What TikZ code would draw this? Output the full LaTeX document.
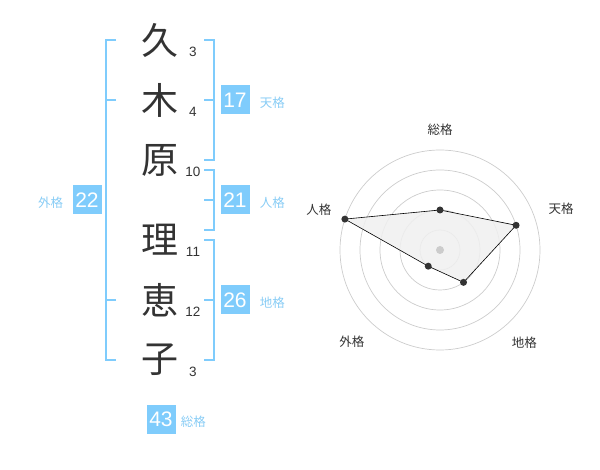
\documentclass[tikz,border=0pt]{standalone}
\usepackage{fontspec}
\setmainfont{Liberation Sans}
\newfontfamily\cjk{Noto Sans CJK JP}
\usepackage{tikz}
\usetikzlibrary{positioning}

\definecolor{skyblue}{HTML}{7FCCFC}
\definecolor{lightlabel}{HTML}{88CCF5}
\definecolor{darktext}{HTML}{333333}
\definecolor{ringgray}{HTML}{CCCCCC}
\definecolor{fillgray}{HTML}{F0F0F0}

\begin{document}
\begin{tikzpicture}[x=1pt, y=-1pt,
    kanji/.style={inner sep=0, text=darktext, font=\cjk\fontsize{37}{37}\selectfont},
    strokes/.style={inner sep=0, text=darktext, font=\fontsize{13.5}{14}\selectfont},
    scorebox/.style={fill=skyblue, text=white, inner sep=0, minimum size=29pt, font=\fontsize{21}{21}\selectfont},
    kaku/.style={inner sep=0, text=lightlabel, font=\cjk\fontsize{12.5}{13}\selectfont},
    bracket/.style={draw=skyblue, line width=2pt},
    axis/.style={inner sep=0, text=darktext, font=\cjk\fontsize{12.5}{13}\selectfont},
    ring/.style={draw=ringgray, line width=0.7pt},
    dot/.style={circle, fill=darktext, inner sep=0, minimum size=7pt}]

    \useasboundingbox (0,0) rectangle (600,470);

    % Name characters
    \node (kyu)  [kanji] at (160,40) {久};
    \node (ki)   [kanji] at (160,100) {木};
    \node (hara) [kanji] at (160,160) {原};
    \node (ri)   [kanji] at (160,240) {理};
    \node (kei)  [kanji] at (160,300) {恵};
    \node (ko)   [kanji] at (160,360) {子};

    % Stroke counts
    \node (kyuN)  [strokes] at (193,52) {3};
    \node (kiN)   [strokes] at (193,112) {4};
    \node (haraN) [strokes] at (193,172) {10};
    \node (riN)   [strokes] at (193,252) {11};
    \node (keiN)  [strokes] at (193,312) {12};
    \node (koN)   [strokes] at (193,372) {3};

    % Brackets
    \draw[bracket] (116,40) -- (106,40) -- (106,360) -- (116,360);
    \draw[bracket] (116,100) -- (106,100);
    \draw[bracket] (116,300) -- (106,300);
    \draw[bracket] (204,40) -- (214,40) -- (214,160) -- (204,160);
    \draw[bracket] (204,100) -- (214,100);
    \draw[bracket] (204,170) -- (214,170) -- (214,230) -- (204,230);
    \draw[bracket] (204,200) -- (214,200);
    \draw[bracket] (204,240) -- (214,240) -- (214,360) -- (204,360);
    \draw[bracket] (204,300) -- (214,300);

    % Scores and their labels
    \node (ten)  [scorebox] at (235,100) {17};
    \node (jin)  [scorebox] at (235,200) {21};
    \node (chi)  [scorebox] at (235,300) {26};
    \node (gai)  [scorebox] at (87,200) {22};
    \node (sou)  [scorebox] at (161,419) {43};
    \node (tenL) [kaku, right=10pt of ten, yshift=-3pt] {天格};
    \node (jinL) [kaku, right=10pt of jin, yshift=-3pt] {人格};
    \node (chiL) [kaku, right=10pt of chi, yshift=-3pt] {地格};
    \node (gaiL) [kaku, left=9pt of gai, yshift=-3pt] {外格};
    \node (souL) [kaku, right=5pt of sou, yshift=-3pt] {総格};

    % Radar chart
    \begin{scope}[shift={(440,250)}, yscale=-1]
        \foreach \r in {20,40,60,80,100}
            \draw[ring] (0,0) circle (\r);
        \coordinate (pSou) at (90:40);
        \coordinate (pTen) at (18:80);
        \coordinate (pChi) at (-54:40);
        \coordinate (pGai) at (-126:20);
        \coordinate (pJin) at (162:100);
        \draw[fill=fillgray, fill opacity=0.85, draw=black, line width=0.6pt]
            (pSou) -- (pTen) -- (pChi) -- (pGai) -- (pJin) -- cycle;
        \fill[ringgray] (0,0) circle (4);
        \foreach \p in {pSou,pTen,pChi,pGai,pJin}
            \node[dot] at (\p) {};
        \node (aSou) [axis] at (90:120) {総格};
        \node (aTen) [axis] at (19:128) {天格};
        \node (aChi) [axis] at (-47.6:125) {地格};
        \node (aGai) [axis] at (-133.8:127.5) {外格};
        \node (aJin) [axis] at (161.8:127.6) {人格};
    \end{scope}

\end{tikzpicture}
\end{document}
